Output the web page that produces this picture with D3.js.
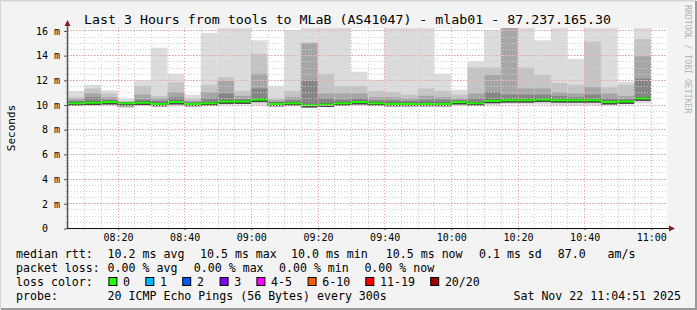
<!DOCTYPE html>
<html>
<head>
<meta charset="utf-8">
<script src="https://cdn.jsdelivr.net/npm/d3@7"></script>
<style>
  body { margin: 0; background: #f3f3f3; }
  svg text { font-family: "DejaVu Sans Mono", monospace; fill: #000; }
</style>
</head>
<body>
<div id="container"></div>
<script>
/* DATA */
// bar end times, 5 minute steps
const barTimes = ["08:10","08:15","08:20","08:25","08:30","08:35","08:40","08:45","08:50","08:55",
  "09:00","09:05","09:10","09:15","09:20","09:25","09:30","09:35","09:40","09:45",
  "09:50","09:55","10:00","10:05","10:10","10:15","10:20","10:25","10:30","10:35",
  "10:40","10:45","10:50","10:55","11:00"];
// median rtt (ms)
const medianRtt = [10.1,10.15,10.2,10.1,10.15,10.05,10.2,10.05,10.1,10.25,
  10.25,10.4,10.05,10.1,9.95,10.0,10.1,10.2,10.1,10.05,
  10.05,10.05,10.05,10.2,10.1,10.3,10.35,10.35,10.4,10.35,
  10.35,10.35,10.2,10.25,10.5];
// smoke: highest ping and inner band tops (ms)
const pingMax = [11.1,11.6,11.15,10.5,11.95,14.6,12.5,10.8,15.8,16.2,
  16.2,15.2,11.5,16.0,16.2,16.2,16.2,12.65,12.0,16.2,
  16.2,16.2,12.5,11.2,13.5,16.0,16.2,16.2,15.2,16.2,
  13.7,16.2,16.2,11.85,16.2];
const pingP2 = [10.6,11.3,10.9,10.3,11.5,10.7,11.8,10.5,11.6,12.2,
  11.1,14.1,10.5,11.1,15.0,12.5,11.5,11.5,11.1,11.0,
  10.8,11.3,11.1,10.8,13.0,13.0,16.2,13.0,12.4,11.75,
  11.6,15.1,11.4,11.6,15.3];
const pingP3 = [10.45,10.9,10.6,10.2,10.8,10.5,11.0,10.3,11.0,11.9,
  10.7,12.5,10.35,10.6,15.0,10.9,10.9,10.9,10.6,10.6,
  10.5,10.7,10.6,10.5,10.9,12.4,16.2,11.3,11.3,11.0,
  10.9,11.4,10.9,10.7,13.9];
const pingP4 = [10.3,10.6,10.4,10.15,10.4,10.3,10.6,10.15,10.5,10.9,
  10.45,11.3,10.2,10.35,12.0,10.5,10.4,10.5,10.35,10.35,
  10.3,10.4,10.4,10.35,10.5,11.0,10.8,10.8,10.8,10.7,
  10.6,10.8,10.5,10.45,12.1];
// smoke: lowest ping and inner band bottom (ms)
const pingLo = [9.9,9.95,9.95,9.7,9.9,9.85,9.85,9.85,9.9,9.95,
  10.0,9.9,9.85,9.85,9.8,9.85,9.9,9.95,9.9,9.85,
  9.85,9.9,9.85,9.95,9.9,9.95,10.05,10.0,10.0,9.95,
  9.9,9.9,9.95,10.0,10.1];
const pingLo2 = [10.0,10.05,10.05,9.85,10.0,9.95,10.05,9.95,10.0,10.1,
  10.1,10.2,9.95,10.0,9.85,9.9,10.0,10.05,10.0,9.95,
  9.95,9.95,9.95,10.05,10.0,10.15,10.2,10.2,10.25,10.2,
  10.2,10.2,10.1,10.15,10.35];

const yMajor = [0, 2, 4, 6, 8, 10, 12, 14, 16];
const titleText = "Last 3 Hours from tools to MLaB (AS41047) - mlab01 - 87.237.165.30";
const rttStats = ["10.2 ms avg", "10.5 ms max", "10.0 ms min", "10.5 ms now", "0.1 ms sd", "87.0", "am/s"];
const lossStats = ["0.00 % avg", "0.00 % max", "0.00 % min", "0.00 % now"];
const lossLabels = ["0", "1", "2", "3", "4-5", "6-10", "11-19", "20/20"];
const lossColors = ["#20ff00", "#00b8ff", "#0059ff", "#7e00ff", "#ff00ff", "#ff5a00", "#ff0000", "#a10000"];
const probeText = "20 ICMP Echo Pings (56 Bytes) every 300s";
const stampText = "Sat Nov 22 11:04:51 2025";

/* LAYOUT */
const width = 697, height = 310;
const plot = { left: 67, right: 667, top: 28, bottom: 228 };
const rttX = [107.6, 200, 291, 385.8, 479, 557.8, 607.6];
const lossX = [107.6, 193.8, 279, 364.4];
const boxX = [108.4, 145.3, 182.2, 219.6, 256.4, 307.6, 365.3, 430.2];

const svg = d3.select("#container").append("svg")
  .attr("width", width).attr("height", height);

// frame
svg.append("rect").attr("width", width).attr("height", height).attr("fill", "#f3f3f3");
svg.append("path").attr("d", `M0,${height - 1}V0.5H${width - 1}`).attr("fill", "none").attr("stroke", "#d6d6d6").attr("stroke-width", 2);
svg.append("path").attr("d", `M1,${height - 1}H${width - 1}V1`).attr("fill", "none").attr("stroke", "#9a9a9a").attr("stroke-width", 2);

// SCALES
const t0 = new Date("2025-11-22T08:04:51Z"), t1 = new Date("2025-11-22T11:04:51Z");
const x = d3.scaleUtc().domain([t0, t1]).range([plot.left, plot.right]);
const y = d3.scaleLinear().domain([0, 16.2]).range([plot.bottom, plot.top]);
const parseT = s => new Date(`2025-11-22T${s}:00Z`);

svg.append("rect")
  .attr("x", plot.left).attr("y", plot.top)
  .attr("width", plot.right - plot.left).attr("height", plot.bottom - plot.top)
  .attr("fill", "#fff");

svg.append("clipPath").attr("id", "clip").append("rect")
  .attr("x", plot.left).attr("y", plot.top)
  .attr("width", plot.right - plot.left).attr("height", plot.bottom - plot.top);

const bars = barTimes.map((t, i) => ({
  end: parseT(t), med: medianRtt[i], max: pingMax[i], p2: pingP2[i], p3: pingP3[i], p4: pingP4[i],
  lo: pingLo[i], lo2: pingLo2[i]
}));
const x0 = d => Math.max(plot.left, x(d3.utcMinute.offset(d.end, -5)));
const bw = d => x(d.end) - x0(d);

const g = svg.append("g").attr("clip-path", "url(#clip)");

// smoke bands, outer to inner
const bands = [
  { top: d => d.max, bot: d => d.lo, color: "#dcdcdc" },
  { top: d => d.p2, bot: d => d.lo2, color: "#c4c4c4" },
  { top: d => d.p3, bot: d => d.lo2, color: "#a6a6a6" },
  { top: d => d.p4, bot: d => d.lo2, color: "#868686" },
  { top: d => d.med + 0.1, bot: d => d.med - 0.2, color: "#454545" }
];
bands.forEach((b, k) => {
  g.selectAll(`rect.band${k}`)
    .data(bars)
    .join("rect")
    .attr("class", `band${k}`)
    .attr("x", x0)
    .attr("width", bw)
    .attr("y", d => y(b.top(d)))
    .attr("height", d => y(b.bot(d)) - y(b.top(d)))
    .attr("fill", b.color);
});

// median line (loss 0 = green)
g.selectAll("rect.median")
  .data(bars)
  .join("rect")
  .attr("class", "median")
  .attr("x", x0)
  .attr("width", bw)
  .attr("y", d => y(d.med) - 1)
  .attr("height", 2)
  .attr("fill", lossColors[0]);

// GRID (drawn on top like rrdtool)
const minorX = x.ticks(d3.utcMinute.every(5));
const majorX = x.ticks(d3.utcMinute.every(20));
const minorY = d3.range(0, 16.01, 0.5);

svg.append("g").selectAll("line")
  .data(minorX)
  .join("line")
  .attr("x1", d => Math.round(x(d)) + 0.5).attr("x2", d => Math.round(x(d)) + 0.5)
  .attr("y1", plot.top).attr("y2", plot.bottom + 2)
  .attr("stroke", "#cfcfcf").attr("stroke-dasharray", "1,2");
svg.append("g").selectAll("line")
  .data(minorY)
  .join("line")
  .attr("y1", d => Math.round(y(d)) + 0.5).attr("y2", d => Math.round(y(d)) + 0.5)
  .attr("x1", plot.left - 2).attr("x2", plot.right)
  .attr("stroke", "#cfcfcf").attr("stroke-dasharray", "1,2");
svg.append("g").selectAll("line")
  .data(majorX)
  .join("line")
  .attr("x1", d => Math.round(x(d)) + 0.5).attr("x2", d => Math.round(x(d)) + 0.5)
  .attr("y1", plot.top).attr("y2", plot.bottom + 2)
  .attr("stroke", "#f0a0a0").attr("stroke-dasharray", "1,2");
svg.append("g").selectAll("line")
  .data(yMajor)
  .join("line")
  .attr("y1", d => Math.round(y(d)) + 0.5).attr("y2", d => Math.round(y(d)) + 0.5)
  .attr("x1", plot.left).attr("x2", plot.right)
  .attr("stroke", "#f0a0a0").attr("stroke-dasharray", "1,2");

// AXES
const yAxis = svg.append("g")
  .attr("transform", `translate(${plot.left},0.5)`)
  .call(d3.axisLeft(y).tickValues(yMajor).tickSize(3).tickPadding(4)
    .tickFormat(d => d === 0 ? "0\u00a0\u00a0" : `${d} m`));
yAxis.select(".domain").remove();
yAxis.selectAll("text").attr("font-size", 10).attr("font-family", "DejaVu Sans Mono");
yAxis.selectAll("line").attr("stroke", "#555");

const xAxis = svg.append("g")
  .attr("transform", `translate(0.5,${plot.bottom})`)
  .call(d3.axisBottom(x).ticks(d3.utcMinute.every(20)).tickSize(2).tickPadding(4)
    .tickFormat(d3.utcFormat("%H:%M")));
xAxis.select(".domain").remove();
xAxis.selectAll("text").attr("font-size", 10).attr("font-family", "DejaVu Sans Mono");
xAxis.selectAll("line").attr("stroke", "#555");

svg.append("line")
  .attr("x1", plot.left + 0.5).attr("x2", plot.left + 0.5)
  .attr("y1", 24).attr("y2", plot.bottom)
  .attr("stroke", "#555").attr("stroke-width", 1.5);
svg.append("line")
  .attr("x1", plot.left).attr("x2", 670)
  .attr("y1", plot.bottom + 0.5).attr("y2", plot.bottom + 0.5)
  .attr("stroke", "#111");
svg.append("path").attr("d", "M64.5,26 L67.5,20 L70.5,26 Z").attr("fill", "#8b1c1c");
svg.append("path").attr("d", "M669,225.5 L675,228.5 L669,231.5 Z").attr("fill", "#8b1c1c");

// TITLES
svg.append("text")
  .attr("x", 84).attr("y", 24)
  .attr("font-size", 13)
  .attr("textLength", 527)
  .attr("lengthAdjust", "spacingAndGlyphs")
  .text(titleText);

svg.append("text")
  .attr("transform", `translate(15,${(plot.top + plot.bottom) / 2}) rotate(-90)`)
  .attr("text-anchor", "middle")
  .attr("font-size", 11)
  .text("Seconds");

svg.append("text")
  .attr("transform", "translate(685,5) rotate(90)")
  .attr("font-size", 8.2)
  .style("fill", "#b4b4b4")
  .text("RRDTOOL / TOBI OETIKER");

// LEGEND
const legend = svg.append("g").attr("font-size", 11.6);
const lineY = [258, 272, 286, 300];

legend.append("text").attr("x", 16).attr("y", lineY[0]).text("median rtt:");
legend.selectAll("text.rtt")
  .data(rttStats)
  .join("text")
  .attr("class", "rtt")
  .attr("x", (d, i) => rttX[i]).attr("y", lineY[0])
  .text(d => d);

legend.append("text").attr("x", 16).attr("y", lineY[1]).text("packet loss:");
legend.selectAll("text.loss")
  .data(lossStats)
  .join("text")
  .attr("class", "loss")
  .attr("x", (d, i) => lossX[i]).attr("y", lineY[1])
  .text(d => d);

legend.append("text").attr("x", 16).attr("y", lineY[2]).text("loss color:");
legend.selectAll("rect.swatch")
  .data(lossColors)
  .join("rect")
  .attr("class", "swatch")
  .attr("x", (d, i) => boxX[i] + 0.5).attr("y", lineY[2] - 8.5)
  .attr("width", 8).attr("height", 8)
  .attr("fill", d => d).attr("stroke", "#000");
legend.selectAll("text.swatchLabel")
  .data(lossLabels)
  .join("text")
  .attr("class", "swatchLabel")
  .attr("x", (d, i) => boxX[i] + 14.7).attr("y", lineY[2])
  .text(d => d);

legend.append("text").attr("x", 16).attr("y", lineY[3]).text("probe:");
legend.append("text").attr("x", 107.6).attr("y", lineY[3]).text(probeText);
legend.append("text").attr("x", 681).attr("y", lineY[3]).attr("text-anchor", "end").text(stampText);
</script>
</body>
</html>
